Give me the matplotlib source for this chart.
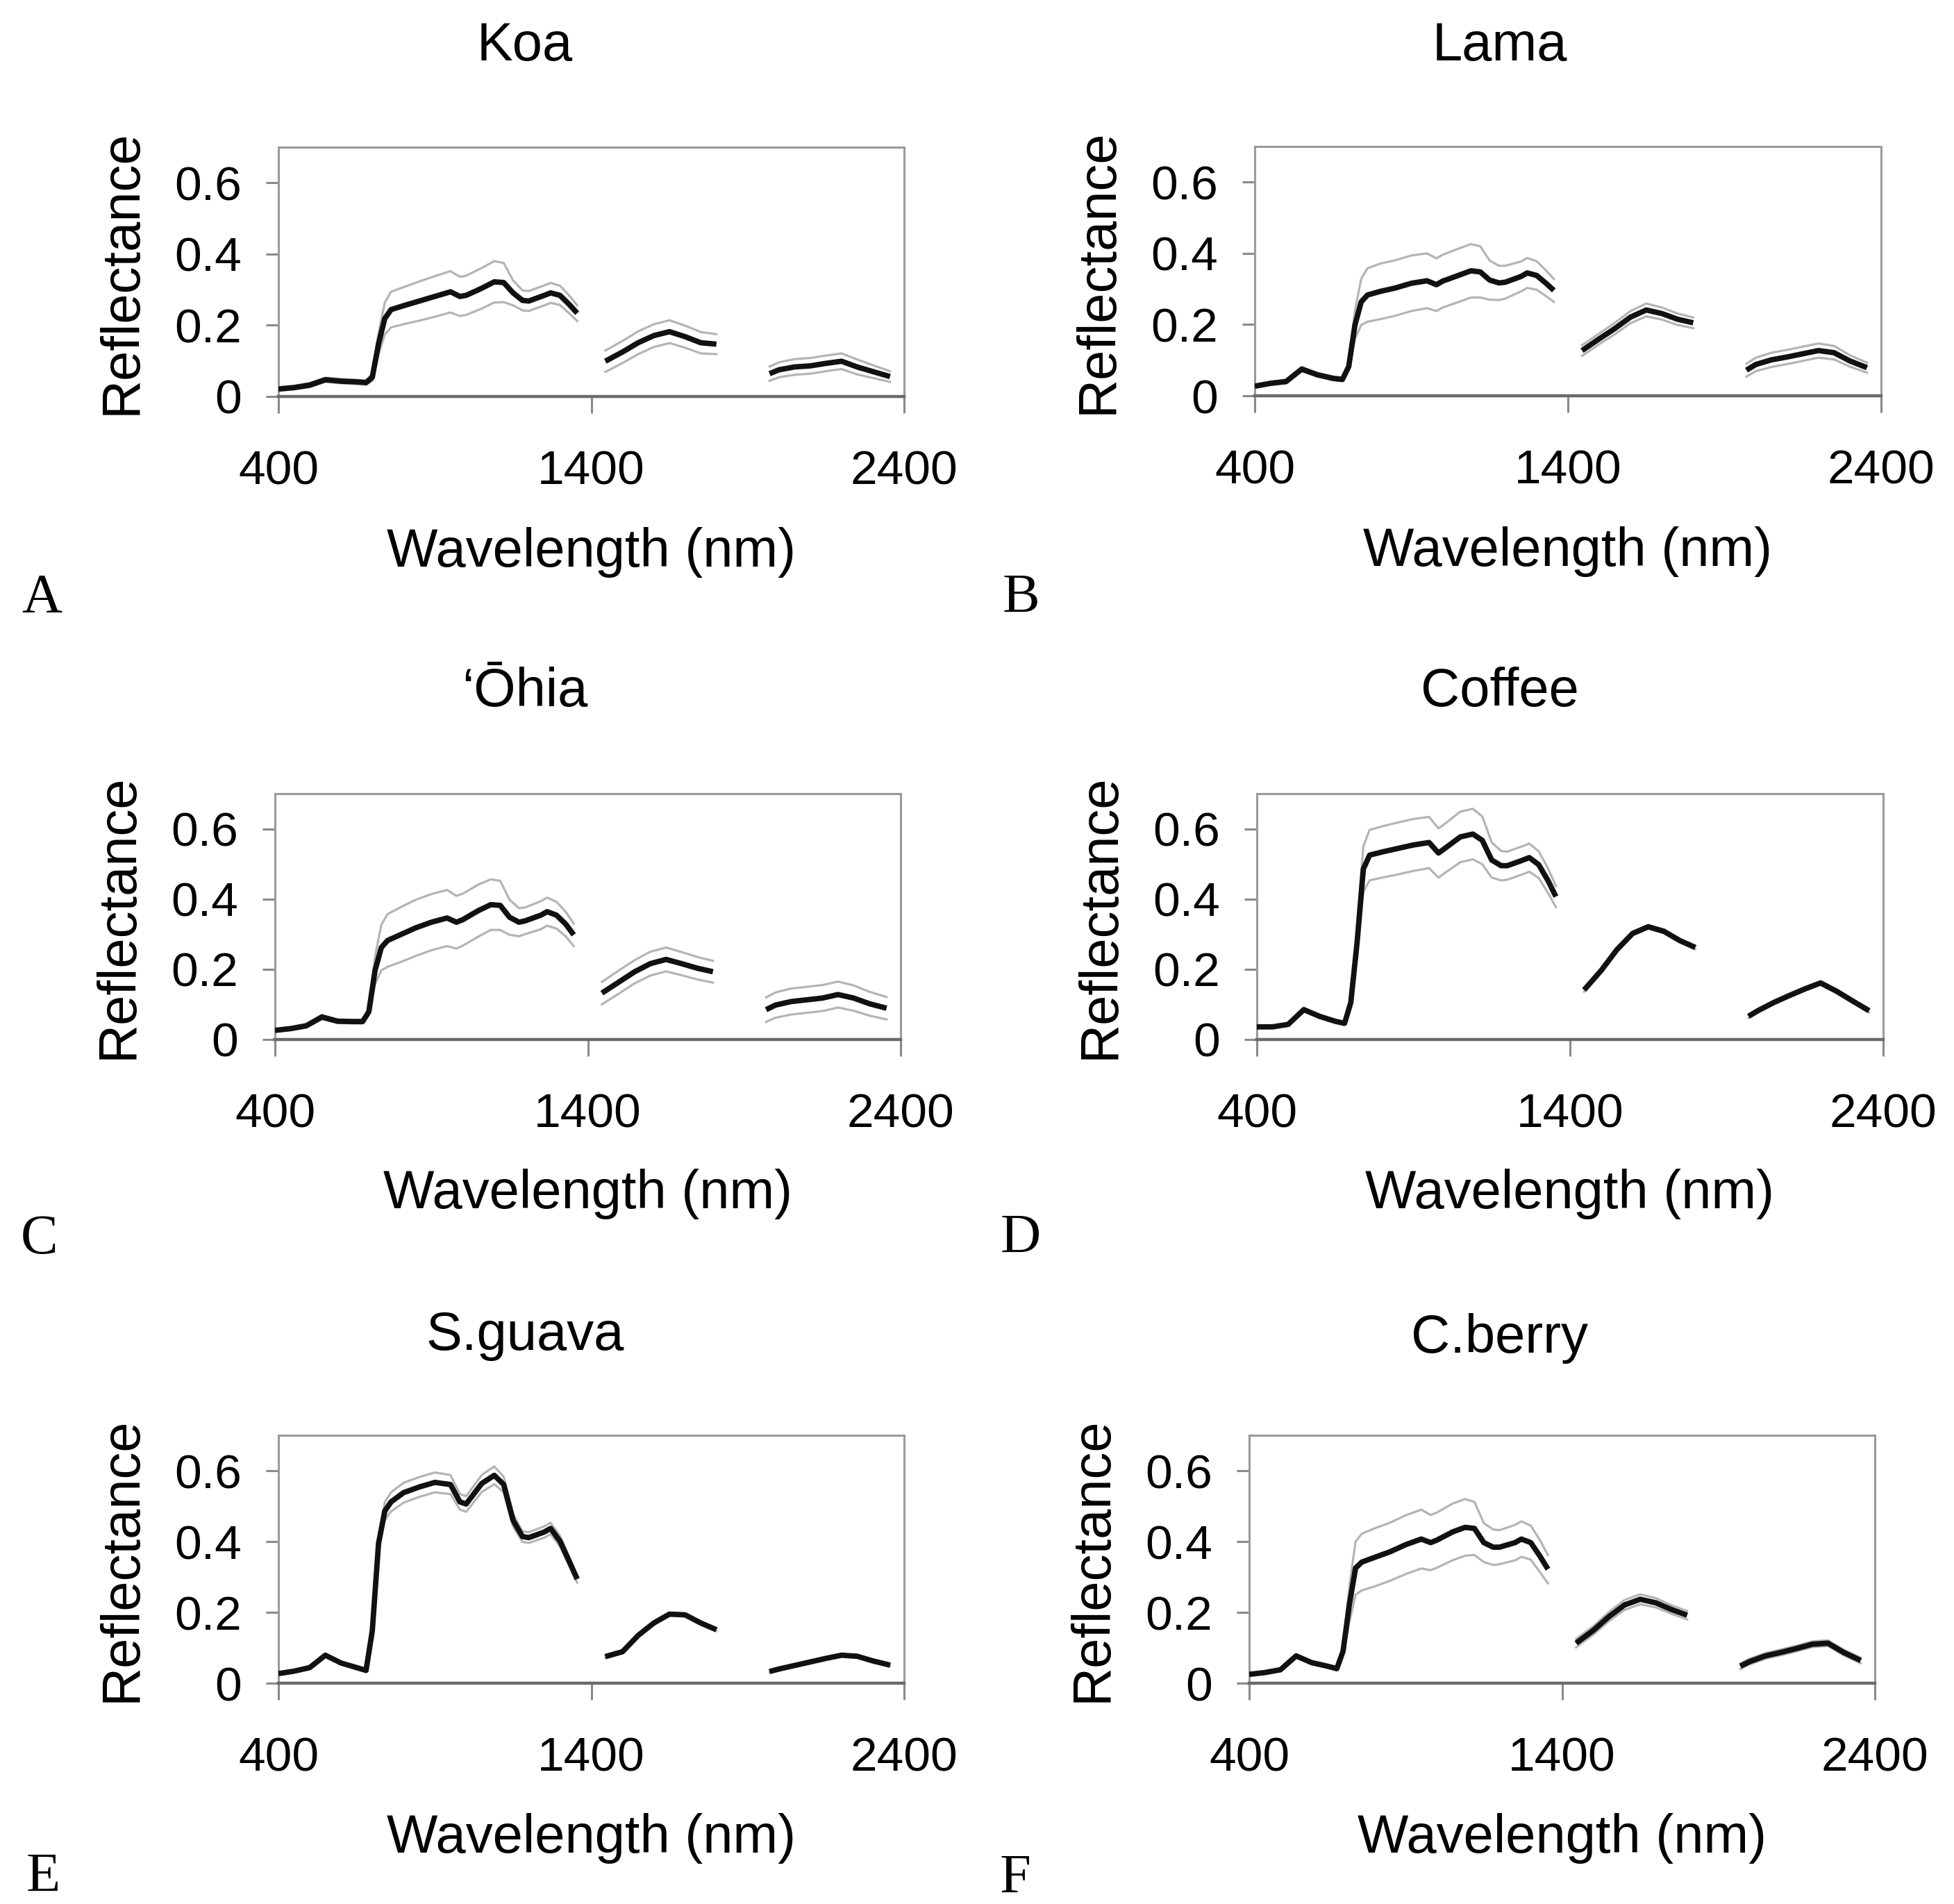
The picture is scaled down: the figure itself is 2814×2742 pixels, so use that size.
import numpy as np
import matplotlib
matplotlib.use('Agg')
import matplotlib.pyplot as plt

# wavelengths (nm) sampled along the three usable spectral regions
wavelength = [400, 450, 500, 550, 600, 650, 680, 700, 720, 740, 760, 800,
              850, 900, 950, 980, 1000, 1050, 1090, 1120, 1150, 1180, 1200,
              1250, 1270, 1300, 1330, 1355,
              1445, 1500, 1550, 1600, 1650, 1700, 1750, 1800,
              1970, 2000, 2050, 2100, 2150, 2200, 2250, 2300, 2355]

species = ['Koa', 'Lama', '\u2018\u014Chia', 'Coffee', 'S.guava', 'C.berry']
panel_letters = ['A', 'B', 'C', 'D', 'E', 'F']

# mean reflectance and standard deviation
koa_mean = [0.021, 0.025, 0.032, 0.047, 0.043, 0.041, 0.039, 0.054, 0.148,
            0.219, 0.244, 0.255, 0.268, 0.281, 0.294, 0.281, 0.284, 0.304,
            0.322, 0.320, 0.291, 0.270, 0.268, 0.284, 0.291, 0.284, 0.258,
            0.234,
            0.099, 0.125, 0.151, 0.171, 0.182, 0.168, 0.151, 0.147,
            0.064, 0.075, 0.083, 0.086, 0.093, 0.099, 0.083, 0.070, 0.056]
koa_sd = [0.005, 0.005, 0.006, 0.006, 0.006, 0.006, 0.006, 0.010, 0.030,
          0.045, 0.050, 0.052, 0.055, 0.057, 0.058, 0.055, 0.055, 0.057,
          0.058, 0.055, 0.035, 0.028, 0.028, 0.028, 0.028, 0.027, 0.025,
          0.022,
          0.030, 0.031, 0.032, 0.032, 0.032, 0.031, 0.030, 0.028,
          0.020, 0.021, 0.022, 0.022, 0.022, 0.022, 0.021, 0.018, 0.015]

lama_mean = [0.027, 0.035, 0.040, 0.075, 0.059, 0.049, 0.046, 0.082, 0.199,
             0.264, 0.283, 0.293, 0.303, 0.316, 0.323, 0.312, 0.322, 0.338,
             0.351, 0.348, 0.325, 0.317, 0.319, 0.335, 0.345, 0.338, 0.316,
             0.296,
             0.127, 0.160, 0.189, 0.221, 0.241, 0.231, 0.215, 0.205,
             0.072, 0.088, 0.101, 0.109, 0.118, 0.127, 0.121, 0.098, 0.079]
lama_sd = [0.004, 0.004, 0.005, 0.006, 0.005, 0.005, 0.005, 0.010, 0.040,
           0.065, 0.075, 0.078, 0.078, 0.078, 0.077, 0.074, 0.074, 0.075,
           0.075, 0.072, 0.055, 0.048, 0.046, 0.042, 0.042, 0.040, 0.036,
           0.032,
           0.015, 0.015, 0.016, 0.017, 0.018, 0.017, 0.016, 0.015,
           0.018, 0.019, 0.020, 0.020, 0.020, 0.020, 0.019, 0.016, 0.014]

ohia_mean = [0.026, 0.031, 0.039, 0.064, 0.052, 0.051, 0.051, 0.079, 0.197,
             0.262, 0.282, 0.298, 0.318, 0.334, 0.346, 0.334, 0.341, 0.367,
             0.384, 0.382, 0.348, 0.334, 0.338, 0.354, 0.364, 0.354, 0.328,
             0.298,
             0.132, 0.164, 0.193, 0.216, 0.228, 0.216, 0.203, 0.193,
             0.085, 0.098, 0.108, 0.113, 0.118, 0.128, 0.118, 0.102, 0.089]
ohia_sd = [0.004, 0.004, 0.005, 0.006, 0.005, 0.005, 0.005, 0.010, 0.040,
           0.065, 0.075, 0.078, 0.080, 0.080, 0.080, 0.075, 0.074, 0.074,
           0.072, 0.070, 0.050, 0.040, 0.038, 0.040, 0.040, 0.038, 0.035,
           0.032,
           0.032, 0.033, 0.033, 0.034, 0.034, 0.033, 0.032, 0.031,
           0.035, 0.036, 0.037, 0.037, 0.037, 0.037, 0.036, 0.034, 0.032]

coffee_mean = [0.036, 0.036, 0.043, 0.085, 0.066, 0.052, 0.046, 0.105, 0.275,
               0.485, 0.525, 0.534, 0.544, 0.554, 0.561, 0.531, 0.544, 0.577,
               0.585, 0.567, 0.511, 0.495, 0.495, 0.511, 0.518, 0.498, 0.452,
               0.407,
               0.141, 0.197, 0.256, 0.302, 0.321, 0.308, 0.282, 0.262,
               0.066, 0.082, 0.105, 0.125, 0.144, 0.161, 0.138, 0.111, 0.082]
coffee_sd = [0.003, 0.003, 0.004, 0.005, 0.004, 0.004, 0.004, 0.008, 0.040,
             0.065, 0.072, 0.073, 0.074, 0.074, 0.073, 0.070, 0.070, 0.072,
             0.072, 0.068, 0.050, 0.042, 0.040, 0.040, 0.040, 0.038, 0.035,
             0.030,
             0.005, 0.005, 0.005, 0.005, 0.005, 0.005, 0.005, 0.005,
             0.005, 0.005, 0.005, 0.005, 0.005, 0.005, 0.005, 0.005, 0.005]

sguava_mean = [0.027, 0.034, 0.044, 0.079, 0.057, 0.044, 0.036, 0.148, 0.395,
               0.486, 0.512, 0.538, 0.554, 0.567, 0.561, 0.512, 0.506, 0.564,
               0.587, 0.561, 0.460, 0.414, 0.411, 0.427, 0.437, 0.401, 0.343,
               0.294,
               0.075, 0.089, 0.135, 0.170, 0.195, 0.193, 0.170, 0.151,
               0.033, 0.040, 0.050, 0.060, 0.070, 0.079, 0.076, 0.063, 0.051]
sguava_sd = [0.003, 0.003, 0.003, 0.004, 0.003, 0.003, 0.003, 0.006, 0.020,
             0.025, 0.027, 0.028, 0.028, 0.028, 0.027, 0.022, 0.022, 0.024,
             0.025, 0.022, 0.018, 0.015, 0.015, 0.016, 0.016, 0.015, 0.013,
             0.010,
             0.004, 0.004, 0.004, 0.004, 0.004, 0.004, 0.004, 0.004,
             0.003, 0.003, 0.003, 0.003, 0.003, 0.003, 0.003, 0.003, 0.003]

cberry_mean = [0.025, 0.030, 0.038, 0.077, 0.058, 0.048, 0.041, 0.090, 0.221,
               0.325, 0.342, 0.355, 0.371, 0.391, 0.407, 0.397, 0.404, 0.427,
               0.440, 0.437, 0.397, 0.384, 0.384, 0.397, 0.407, 0.397, 0.358,
               0.322,
               0.113, 0.149, 0.188, 0.221, 0.237, 0.227, 0.208, 0.192,
               0.048, 0.061, 0.077, 0.087, 0.098, 0.110, 0.113, 0.087, 0.064]
cberry_sd = [0.003, 0.003, 0.004, 0.005, 0.004, 0.004, 0.004, 0.010, 0.050,
             0.075, 0.080, 0.082, 0.082, 0.083, 0.083, 0.078, 0.078, 0.080,
             0.080, 0.075, 0.055, 0.050, 0.048, 0.050, 0.050, 0.048, 0.045,
             0.040,
             0.012, 0.012, 0.013, 0.014, 0.014, 0.013, 0.012, 0.012,
             0.008, 0.008, 0.008, 0.008, 0.008, 0.008, 0.008, 0.008, 0.008]

means = [koa_mean, lama_mean, ohia_mean, coffee_mean, sguava_mean, cberry_mean]
sds = [koa_sd, lama_sd, ohia_sd, coffee_sd, sguava_sd, cberry_sd]

x_ticks = [400, 1400, 2400]
y_ticks = [0, 0.2, 0.4, 0.6]
y_ticklabels = ['0', '0.2', '0.4', '0.6']

# ---- layout (pixels of the 2814x2742 canvas) ----
W, H = 2814, 2742
dpi = 100
# axes boxes: left, top, right, bottom
axes_px = [(401, 212, 1302, 571), (1807, 211, 2709, 570),
           (396, 1143, 1297, 1497), (1810, 1143, 2712, 1497),
           (401, 2067, 1302, 2424), (1799, 2067, 2700, 2424)]
title_px = [(756, 66), (2160, 66), (756, 997), (2160, 997),
            (756, 1924), (2160, 1927)]
letter_px = [(60, 862), (1470, 862), (57, 1786), (1470, 1784),
             (62, 2704), (1462, 2706)]

sans = 'Liberation Sans'
serif = 'Liberation Serif'
plt.rcParams['font.family'] = sans

fig = plt.figure(figsize=(W / dpi, H / dpi), dpi=dpi)
fig.patch.set_facecolor('white')

wl = np.array(wavelength)
breaks = np.where(np.diff(wl) > 60)[0] + 1
segments = np.split(np.arange(len(wl)), breaks)

for i in range(6):
    l, t, r, b = axes_px[i]
    ax = fig.add_axes([l / W, 1 - b / H, (r - l) / W, (b - t) / H])
    m = np.array(means[i])
    s = np.array(sds[i])
    for idx in segments:
        ax.plot(wl[idx], m[idx] + s[idx], color='#b4b4b4', lw=2.3,
                solid_joinstyle='round', zorder=2)
        ax.plot(wl[idx], m[idx] - s[idx], color='#b4b4b4', lw=2.3,
                solid_joinstyle='round', zorder=2)
        ax.plot(wl[idx], m[idx], color='#111111', lw=5.6,
                solid_joinstyle='round', solid_capstyle='butt', zorder=3)

    ax.set_xlim(400, 2400)
    ax.set_ylim(0, 0.7)
    ax.set_xticks(x_ticks)
    ax.set_yticks(y_ticks)
    ax.set_yticklabels(y_ticklabels)
    ax.tick_params(axis='both', which='major', labelsize=50, color='#8a8a8a',
                   width=2.2, direction='out')
    ax.tick_params(axis='x', length=17, pad=38)
    ax.tick_params(axis='y', length=13, pad=25)
    for side in ['top', 'right', 'left']:
        ax.spines[side].set_color('#9a9a9a')
        ax.spines[side].set_linewidth(2.2)
    ax.spines['bottom'].set_color('#6a6a6a')
    ax.spines['bottom'].set_linewidth(3.2)

    ax.set_xlabel('Wavelength (nm)', fontsize=56)
    ax.xaxis.set_label_coords(0.5, -0.525)
    ax.set_ylabel('Reflectance', fontsize=56)
    ax.yaxis.set_label_coords(-0.21, 0.5)

    tx, ty = title_px[i]
    fig.text(tx / W, 1 - ty / H, species[i], fontsize=56,
             ha='center', va='center')
    lx, ly = letter_px[i]
    fig.text(lx / W, 1 - ly / H, panel_letters[i], fontsize=58,
             family=serif, ha='center', va='center')

fig.savefig('out.png', dpi=dpi, facecolor='white')
